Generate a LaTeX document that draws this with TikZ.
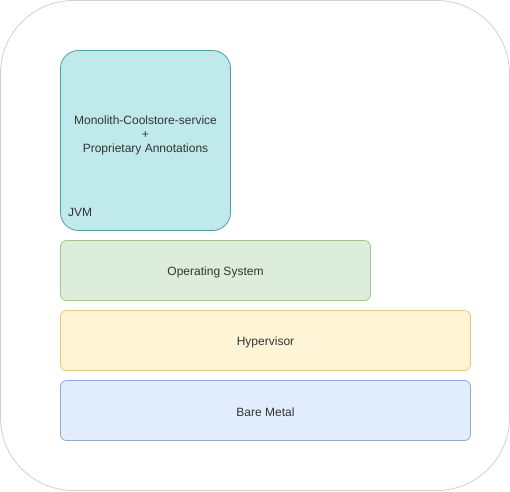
\documentclass[tikz,border=0pt]{standalone}
\usepackage{fontspec}
\setmainfont{Liberation Sans}
\definecolor{txt}{HTML}{333333}
\definecolor{outerc}{HTML}{D0D0D0}
\definecolor{jvmfill}{HTML}{C0E9EB}
\definecolor{jvmdraw}{HTML}{4A9EA4}
\definecolor{osfill}{HTML}{DDEDDC}
\definecolor{osdraw}{HTML}{A2C68E}
\definecolor{hvfill}{HTML}{FFF5D6}
\definecolor{hvdraw}{HTML}{E0C882}
\definecolor{bmfill}{HTML}{E1EDFD}
\definecolor{bmdraw}{HTML}{90AACF}
\begin{document}
\begin{tikzpicture}[x=1pt,y=-1pt,
  layer/.style={rounded corners=6pt, line width=0.8pt},
  lbl/.style={font=\fontsize{12}{14}\selectfont, text=txt, align=center, inner sep=0pt}]
\useasboundingbox (0,0) rectangle (510,491);
\draw[outerc, line width=0.8pt, rounded corners=73pt] (0.5,0.5) rectangle (509.5,490.5);
% JVM
\draw[layer, rounded corners=18pt, fill=jvmfill, draw=jvmdraw] (60.5,50.5) rectangle (230.5,230.5);
\node[lbl] (app) at (145.5,135) {Monolith-Coolstore-service\\+\\Proprietary Annotations};
\node[lbl, anchor=west] (jvm) at (68,212) {JVM};
% OS
\draw[layer, fill=osfill, draw=osdraw] (60.5,240.5) rectangle (370.5,300.5);
\node[lbl] (os) at (215.5,272) {Operating System};
% Hypervisor
\draw[layer, fill=hvfill, draw=hvdraw] (60.5,310.5) rectangle (470.5,370.5);
\node[lbl] (hv) at (265.5,342) {Hypervisor};
% Bare metal
\draw[layer, fill=bmfill, draw=bmdraw] (60.5,380.5) rectangle (470.5,440.5);
\node[lbl] (bm) at (265.5,412) {Bare Metal};
\end{tikzpicture}
\end{document}
